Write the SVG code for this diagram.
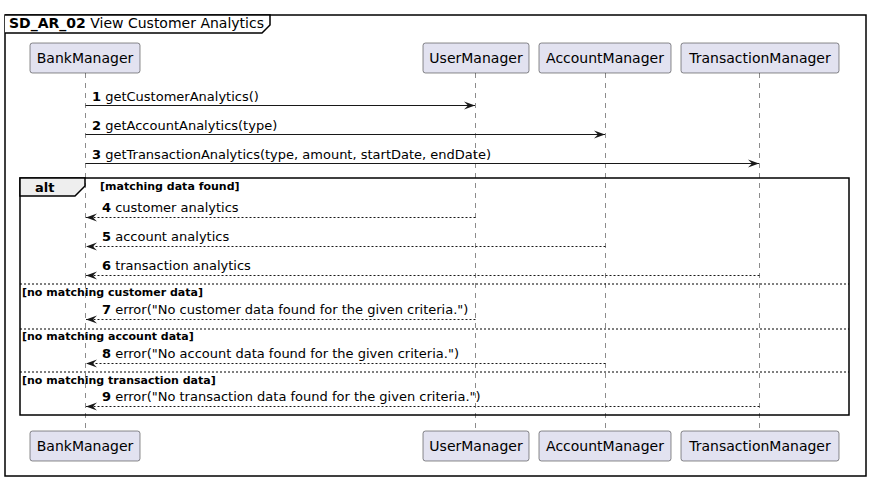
<svg xmlns="http://www.w3.org/2000/svg" width="871" height="482" viewBox="0 0 871 482">
<defs>
<style>
text{font-family:"DejaVu Sans","Liberation Sans",sans-serif;fill:#000}
.msg{font-size:13px}
.num{font-weight:bold}
.guard{font-size:11px;font-weight:bold}
.pname{font-size:14px;fill:#000}
.pbox{fill:#E2E2F0;stroke:#181818;stroke-width:0.5}
.life{stroke:#181818;stroke-width:0.5;stroke-dasharray:5,5;fill:none}
.call{stroke:#181818;stroke-width:1;fill:none}
.ret{stroke:#181818;stroke-width:1;stroke-dasharray:2,2;fill:none}
.sep{stroke:#000;stroke-width:1;stroke-dasharray:2,2;fill:none}
</style>
<marker id="ah" viewBox="0 0 12 10" refX="11" refY="5" markerWidth="12" markerHeight="10" markerUnits="userSpaceOnUse" orient="auto">
<polygon points="0,1 11,5 0,9 4,5" fill="#181818"/>
</marker>
</defs>
<rect width="871" height="482" fill="#fff"/>
<g id="frame">
<rect x="5" y="15" width="861" height="461" fill="none" stroke="#000" stroke-width="1.5"/>
<path d="M5,15 L270,15 L270,25 L262,33 L5,33" fill="#fff" stroke="#000" stroke-width="1.5"/>
<text x="9" y="28" font-size="14"><tspan font-weight="bold">SD_AR_02</tspan> View Customer Analytics</text>
</g>
<g id="lifelines">
<line class="life" x1="85.5" y1="73" x2="85.5" y2="431"/>
<line class="life" x1="475.5" y1="73" x2="475.5" y2="431"/>
<line class="life" x1="605.5" y1="73" x2="605.5" y2="431"/>
<line class="life" x1="759.5" y1="73" x2="759.5" y2="431"/>
</g>
<g id="alt">
<rect x="20" y="178" width="829" height="237" fill="none" stroke="#000" stroke-width="1.5"/>
<path d="M20,178 L85,178 L85,186 L75,196 L20,196 Z" fill="#EEEEEE" stroke="#000" stroke-width="1.5"/>
<text x="35" y="192" font-size="13" font-weight="bold">alt</text>
<text class="guard" x="100" y="190">[matching data found]</text>
<line class="sep" x1="20" y1="284" x2="849" y2="284"/>
<text class="guard" x="22" y="296">[no matching customer data]</text>
<line class="sep" x1="20" y1="329" x2="849" y2="329"/>
<text class="guard" x="22" y="340">[no matching account data]</text>
<line class="sep" x1="20" y1="372" x2="849" y2="372"/>
<text class="guard" x="22" y="384">[no matching transaction data]</text>
</g>
<g id="connectors">
<line class="call" x1="85.5" y1="105.5" x2="475" y2="105.5" marker-end="url(#ah)"/>
<text class="msg" x="92" y="101"><tspan class="num">1</tspan> getCustomerAnalytics()</text>
<line class="call" x1="85.5" y1="134.5" x2="605" y2="134.5" marker-end="url(#ah)"/>
<text class="msg" x="92" y="130"><tspan class="num">2</tspan> getAccountAnalytics(type)</text>
<line class="call" x1="85.5" y1="163.5" x2="759" y2="163.5" marker-end="url(#ah)"/>
<text class="msg" x="92" y="159"><tspan class="num">3</tspan> getTransactionAnalytics(type, amount, startDate, endDate)</text>
<line class="ret" x1="475.5" y1="217.5" x2="86" y2="217.5" marker-end="url(#ah)"/>
<text class="msg" x="102" y="212"><tspan class="num">4</tspan> customer analytics</text>
<line class="ret" x1="605.5" y1="246.5" x2="86" y2="246.5" marker-end="url(#ah)"/>
<text class="msg" x="102" y="241"><tspan class="num">5</tspan> account analytics</text>
<line class="ret" x1="759.5" y1="275.5" x2="86" y2="275.5" marker-end="url(#ah)"/>
<text class="msg" x="102" y="270"><tspan class="num">6</tspan> transaction analytics</text>
<line class="ret" x1="475.5" y1="319.5" x2="86" y2="319.5" marker-end="url(#ah)"/>
<text class="msg" x="102" y="314"><tspan class="num">7</tspan> error("No customer data found for the given criteria.")</text>
<line class="ret" x1="605.5" y1="363.5" x2="86" y2="363.5" marker-end="url(#ah)"/>
<text class="msg" x="102" y="358"><tspan class="num">8</tspan> error("No account data found for the given criteria.")</text>
<line class="ret" x1="759.5" y1="406.5" x2="86" y2="406.5" marker-end="url(#ah)"/>
<text class="msg" x="102" y="401"><tspan class="num">9</tspan> error("No transaction data found for the given criteria.")</text>
</g>
<g id="BankManager">
<rect class="pbox" x="30" y="43" width="110" height="30" rx="2.5"/>
<text class="pname" x="85" y="63" text-anchor="middle">BankManager</text>
<rect class="pbox" x="30" y="431" width="110" height="30" rx="2.5"/>
<text class="pname" x="85" y="451" text-anchor="middle">BankManager</text>
</g>
<g id="UserManager">
<rect class="pbox" x="423" y="43" width="106" height="30" rx="2.5"/>
<text class="pname" x="476" y="63" text-anchor="middle">UserManager</text>
<rect class="pbox" x="423" y="431" width="106" height="30" rx="2.5"/>
<text class="pname" x="476" y="451" text-anchor="middle">UserManager</text>
</g>
<g id="AccountManager">
<rect class="pbox" x="539" y="43" width="132" height="30" rx="2.5"/>
<text class="pname" x="605" y="63" text-anchor="middle">AccountManager</text>
<rect class="pbox" x="539" y="431" width="132" height="30" rx="2.5"/>
<text class="pname" x="605" y="451" text-anchor="middle">AccountManager</text>
</g>
<g id="TransactionManager">
<rect class="pbox" x="681" y="43" width="158" height="30" rx="2.5"/>
<text class="pname" x="760" y="63" text-anchor="middle">TransactionManager</text>
<rect class="pbox" x="681" y="431" width="158" height="30" rx="2.5"/>
<text class="pname" x="760" y="451" text-anchor="middle">TransactionManager</text>
</g>
</svg>
